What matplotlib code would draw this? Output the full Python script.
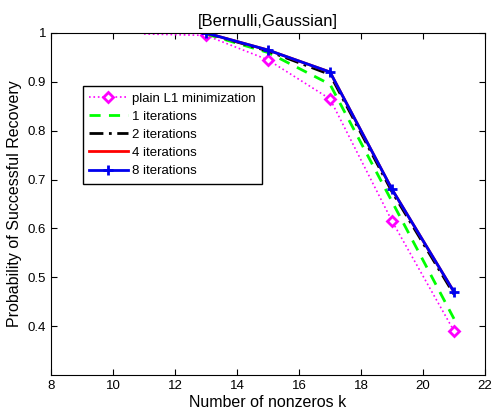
import numpy as np
import matplotlib.pyplot as plt

plt.rcParams['font.family'] = ['Liberation Sans', 'DejaVu Sans']

# Data
k_plain = [11, 13, 15, 17, 19, 21]
p_plain = [0.998, 0.995, 0.945, 0.865, 0.615, 0.39]
k = [13, 15, 17, 19, 21]
p_1 = [0.998, 0.96, 0.895, 0.655, 0.415]
p_2 = [1.0, 0.963, 0.915, 0.675, 0.465]
p_4 = [1.0, 0.965, 0.92, 0.68, 0.47]
p_8 = [1.0, 0.965, 0.92, 0.68, 0.47]

fig = plt.figure(figsize=(4.93, 4.12), dpi=100)
ax = fig.add_axes([0.1034, 0.0898, 0.8804, 0.8302])

ax.plot(k_plain, p_plain, color='#ff00ff', linestyle=':', lw=1.2, marker='D',
        ms=5.5, mfc='white', mec='#ff00ff', mew=2, markevery=list(range(1, len(k_plain))),
        label='plain L1 minimization')
ax.plot(k, p_1, color='#00ff00', linestyle=(0, (4, 3)), lw=2, label='1 iterations')
ax.plot(k, p_2, color='black', linestyle=(0, (5, 2, 1, 2)), lw=2, label='2 iterations')
ax.plot(k, p_4, color='red', lw=2, label='4 iterations')
ax.plot(k, p_8, color='#0000ee', lw=2, marker='+', ms=7, mew=2, label='8 iterations')

ax.set_xlim(8, 22)
ax.set_ylim(0.3, 1)
ax.set_xticks(np.arange(8, 23, 2))
ax.set_yticks([0.4, 0.5, 0.6, 0.7, 0.8, 0.9, 1])
ax.set_yticklabels(['0.4', '0.5', '0.6', '0.7', '0.8', '0.9', '1'])
ax.tick_params(direction='in', top=True, right=True, labelsize=9.5, length=4)

ax.set_xlabel('Number of nonzeros k', fontsize=11.5, labelpad=2)
ax.set_ylabel('Probability of Successful Recovery', fontsize=11.5)
ax.set_title('[Bernulli,Gaussian]', fontsize=12, pad=5)

leg = ax.legend(loc='upper left', bbox_to_anchor=(0.058, 0.865), fontsize=9.5,
                frameon=True, fancybox=False, edgecolor='black', framealpha=1,
                handlelength=2.9, handletextpad=0.3, borderpad=0.5, labelspacing=0.45)
leg.get_frame().set_linewidth(1)

fig.savefig('out.png', dpi=100)
